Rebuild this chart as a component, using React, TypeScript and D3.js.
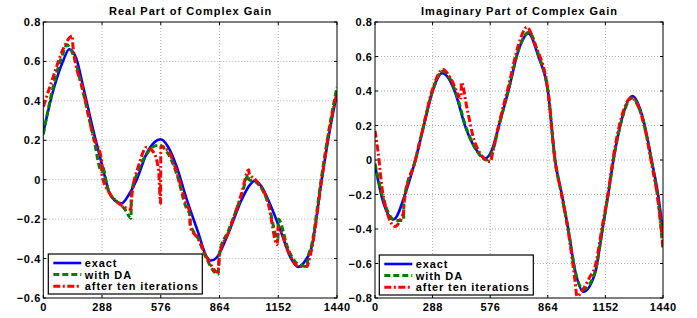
import { useEffect, useRef } from "react";
import * as d3 from "d3";

const xTicks = [0, 288, 576, 864, 1152, 1440];
const realTicks = [-0.6, -0.4, -0.2, 0, 0.2, 0.4, 0.6, 0.8];
const imagTicks = [-0.8, -0.6, -0.4, -0.2, 0, 0.2, 0.4, 0.6, 0.8];
const legendLabels = ["exact", "with DA", "after ten iterations"];

const realExact: [number, number][] = [
    [0, 0.24], [48, 0.45], [96, 0.6], [127, 0.662], [160, 0.62], [196, 0.47], [245, 0.25],
    [286, 0.083], [319, -0.05], [350, -0.105], [384, -0.12], [420, -0.075], [458, 0.0],
    [507, 0.134], [545, 0.19], [575, 0.205], [610, 0.17], [654, 0.066], [700, -0.09],
    [760, -0.27], [800, -0.39], [822, -0.41], [850, -0.395], [907, -0.272], [972, -0.103],
    [1010, -0.03], [1038, -0.005], [1070, -0.035], [1103, -0.103], [1168, -0.272],
    [1210, -0.39], [1250, -0.442], [1285, -0.41], [1316, -0.34], [1365, 0.0], [1405, 0.252],
    [1440, 0.44],
];

const realDA: [number, number][] = [
    [0, 0.23], [48, 0.47], [96, 0.64], [115, 0.684], [144, 0.64], [196, 0.44], [245, 0.22],
    [287, 0.04], [288, 0.07], [320, -0.06], [360, -0.11], [400, -0.15], [430, -0.195],
    [432, -0.07], [460, 0.03], [507, 0.13], [545, 0.17], [570, 0.175], [600, 0.15],
    [654, 0.03], [700, -0.14], [719, -0.18], [720, -0.22], [760, -0.3], [800, -0.4],
    [857, -0.48], [864, -0.37], [907, -0.26], [972, -0.08], [1006, 0.025], [1008, 0.0],
    [1040, -0.01], [1103, -0.12], [1150, -0.3], [1152, -0.2], [1200, -0.35], [1250, -0.43],
    [1294, -0.44], [1296, -0.41], [1316, -0.33], [1365, 0.02], [1405, 0.28], [1440, 0.47],
];

const realIter: [number, number][] = [
    [0, 0.37], [48, 0.52], [96, 0.66], [143, 0.73], [145, 0.68], [196, 0.45], [245, 0.22],
    [286, 0.1], [288, 0.02], [320, -0.06], [360, -0.11], [400, -0.14], [430, -0.15],
    [432, -0.1], [470, 0.08], [507, 0.165], [540, 0.14], [565, 0.05], [575, -0.12],
    [576, 0.17], [610, 0.15], [654, 0.04], [700, -0.12], [719, -0.17], [720, -0.24],
    [760, -0.3], [800, -0.39], [857, -0.47], [864, -0.38], [907, -0.27], [972, -0.07],
    [1007, 0.05], [1010, 0.03], [1040, 0.0], [1103, -0.12], [1147, -0.33], [1152, -0.24],
    [1200, -0.36], [1250, -0.44], [1294, -0.44], [1300, -0.42], [1320, -0.33], [1365, 0.0],
    [1405, 0.27], [1440, 0.44],
];

const imagExact: [number, number][] = [
    [0, -0.03], [40, -0.24], [93, -0.344], [152, -0.193], [202, 0.0], [243, 0.193],
    [285, 0.387], [335, 0.503], [370, 0.47], [402, 0.387], [452, 0.193], [500, 0.07],
    [552, 0.01], [585, 0.06], [618, 0.193], [668, 0.406], [718, 0.638], [767, 0.734],
    [817, 0.599], [865, 0.396], [900, 0.0], [933, -0.193], [967, -0.406], [1000, -0.638],
    [1042, -0.763], [1100, -0.657], [1137, -0.406], [1167, -0.193], [1192, 0.0],
    [1233, 0.232], [1287, 0.371], [1342, 0.232], [1383, 0.0], [1417, -0.213], [1440, -0.42],
];

const imagDA: [number, number][] = [
    [0, -0.02], [40, -0.22], [100, -0.35], [143, -0.35], [144, -0.24], [202, 0.0],
    [243, 0.2], [285, 0.39], [340, 0.515], [380, 0.46], [410, 0.37], [452, 0.2], [500, 0.07],
    [560, 0.0], [590, 0.06], [618, 0.19], [668, 0.41], [718, 0.64], [770, 0.74], [820, 0.6],
    [865, 0.4], [900, 0.0], [933, -0.2], [967, -0.41], [1000, -0.64], [1042, -0.75],
    [1100, -0.65], [1137, -0.4], [1167, -0.19], [1192, 0.0], [1233, 0.23], [1285, 0.36],
    [1342, 0.22], [1383, -0.01], [1417, -0.25], [1440, -0.52],
];

const imagIter: [number, number][] = [
    [0, 0.17], [15, 0.05], [40, -0.2], [100, -0.385], [130, -0.34], [143, -0.3],
    [144, -0.26], [202, 0.0], [243, 0.2], [285, 0.4], [340, 0.525], [380, 0.47],
    [430, 0.36], [432, 0.45], [460, 0.3], [500, 0.1], [576, -0.01], [590, 0.05], [618, 0.2],
    [668, 0.43], [718, 0.67], [760, 0.77], [800, 0.67], [865, 0.4], [900, 0.0], [933, -0.2],
    [967, -0.42], [1000, -0.7], [1010, -0.79], [1040, -0.75], [1075, -0.676], [1100, -0.62],
    [1137, -0.38], [1167, -0.18], [1192, 0.02], [1233, 0.25], [1280, 0.36], [1342, 0.22],
    [1383, -0.02], [1417, -0.25], [1440, -0.5],
];

const FONT = "'Liberation Sans', Arial, Helvetica, sans-serif";

const seriesStyle = [
    { color: "#0000ff", width: 2.6, dash: null as string | null },
    { color: "#008000", width: 3, dash: "6,3" },
    { color: "#ff0000", width: 3, dash: "7,2.5,2,2.5" },
];

const App = () => {
    const ref = useRef<SVGSVGElement>(null);

    useEffect(() => {
        const svg = d3.select(ref.current);
        svg.selectAll("*").remove();

        const panels = [
            {
                title: "Real Part of Complex Gain",
                left: 43.3, right: 337, top: 22, bottom: 298,
                yTicks: realTicks, series: [realExact, realDA, realIter],
                legend: { x: 48.3, y: 254 },
            },
            {
                title: "Imaginary Part of Complex Gain",
                left: 375, right: 663, top: 22, bottom: 298,
                yTicks: imagTicks, series: [imagExact, imagDA, imagIter],
                legend: { x: 379.3, y: 255 },
            },
        ];

        const fmt = (v: number) =>
            Math.abs(v) < 1e-9 ? "0" : (v < 0 ? "\u2212" : "") + Math.abs(v).toFixed(1);

        const tickLs = 0.6;

        panels.forEach((p, pi) => {
            const x = d3.scaleLinear().domain([0, 1440]).range([p.left, p.right]);
            const y = d3
                .scaleLinear()
                .domain([p.yTicks[0], p.yTicks[p.yTicks.length - 1]])
                .range([p.bottom, p.top]);

            const g = svg.append("g");

            g.append("rect")
                .attr("x", p.left).attr("y", p.top)
                .attr("width", p.right - p.left).attr("height", p.bottom - p.top)
                .attr("fill", "#fff");

            // dotted grid
            g.append("g")
                .selectAll("line")
                .data(xTicks.slice(1, -1))
                .join("line")
                .attr("x1", (d) => x(d)).attr("x2", (d) => x(d))
                .attr("y1", p.top).attr("y2", p.bottom)
                .attr("stroke", "#9a9a9a").attr("stroke-width", 0.8)
                .attr("stroke-dasharray", "1,2");
            g.append("g")
                .selectAll("line")
                .data(p.yTicks.slice(1, -1))
                .join("line")
                .attr("x1", p.left).attr("x2", p.right)
                .attr("y1", (d) => y(d)).attr("y2", (d) => y(d))
                .attr("stroke", "#9a9a9a").attr("stroke-width", 0.8)
                .attr("stroke-dasharray", "1,2");

            // inward ticks on all four sides
            const tl = 3;
            const tickG = g.append("g").attr("stroke", "#000").attr("stroke-width", 1);
            xTicks.forEach((t) => {
                tickG.append("line").attr("x1", x(t)).attr("x2", x(t)).attr("y1", p.bottom).attr("y2", p.bottom - tl);
                tickG.append("line").attr("x1", x(t)).attr("x2", x(t)).attr("y1", p.top).attr("y2", p.top + tl);
            });
            p.yTicks.forEach((t) => {
                tickG.append("line").attr("x1", p.left).attr("x2", p.left + tl).attr("y1", y(t)).attr("y2", y(t));
                tickG.append("line").attr("x1", p.right).attr("x2", p.right - tl).attr("y1", y(t)).attr("y2", y(t));
            });

            // curves
            const line = d3
                .line<[number, number]>()
                .x((d) => x(d[0]))
                .y((d) => y(d[1]))
                .curve(d3.curveMonotoneX);

            const clipId = `clip-${pi}`;
            svg.append("defs").append("clipPath").attr("id", clipId)
                .append("rect")
                .attr("x", p.left).attr("y", p.top - 2)
                .attr("width", p.right - p.left).attr("height", p.bottom - p.top + 4);

            p.series.forEach((s, si) => {
                const st = seriesStyle[si];
                const path = g.append("path")
                    .attr("d", line(s))
                    .attr("fill", "none")
                    .attr("stroke", st.color)
                    .attr("stroke-width", st.width)
                    .attr("stroke-linejoin", "round")
                    .attr("clip-path", `url(#${clipId})`);
                if (st.dash) path.attr("stroke-dasharray", st.dash);
            });

            // axes box
            g.append("rect")
                .attr("x", p.left).attr("y", p.top)
                .attr("width", p.right - p.left).attr("height", p.bottom - p.top)
                .attr("fill", "none").attr("stroke", "#000").attr("stroke-width", 1);

            // tick labels
            g.append("g")
                .selectAll("text")
                .data(xTicks)
                .join("text")
                .attr("x", (d) => x(d) + tickLs / 2).attr("y", p.bottom + 13)
                .attr("text-anchor", "middle")
                .attr("font-family", FONT).attr("font-size", 11).attr("font-weight", "bold")
                .attr("letter-spacing", tickLs)
                .text((d) => String(d));
            g.append("g")
                .selectAll("text")
                .data(p.yTicks)
                .join("text")
                .attr("x", p.left - 3 + tickLs).attr("y", (d) => y(d) + 4)
                .attr("text-anchor", "end")
                .attr("font-family", FONT).attr("font-size", 11).attr("font-weight", "bold")
                .attr("letter-spacing", tickLs)
                .text((d) => fmt(d));

            // title
            g.append("text")
                .attr("x", (p.left + p.right) / 2 + 0.5).attr("y", 15)
                .attr("text-anchor", "middle")
                .attr("font-family", FONT).attr("font-size", 11).attr("font-weight", "bold")
                .attr("letter-spacing", 1)
                .text(p.title);

            // legend
            const lg = g.append("g").attr("transform", `translate(${p.legend.x},${p.legend.y})`);
            lg.append("rect")
                .attr("width", 154).attr("height", 40)
                .attr("fill", "#fff").attr("stroke", "#000").attr("stroke-width", 1.2);
            legendLabels.forEach((lab, i) => {
                const st = seriesStyle[i];
                const ly = 9 + i * 11.6;
                const l = lg.append("line")
                    .attr("x1", 5).attr("x2", 33).attr("y1", ly).attr("y2", ly)
                    .attr("stroke", st.color).attr("stroke-width", st.width);
                if (st.dash) l.attr("stroke-dasharray", st.dash);
                lg.append("text")
                    .attr("x", 36.5).attr("y", ly + 4)
                    .attr("font-family", FONT).attr("font-size", 11).attr("font-weight", "bold")
                    .attr("letter-spacing", 0.9)
                    .text(lab);
            });
        });
    }, []);

    return (
        <div style={{ position: "absolute", left: 0, top: 0 }}>
            <svg ref={ref} width={697} height={318} style={{ display: "block", background: "#fff" }}></svg>
        </div>
    );
};

export default App;
